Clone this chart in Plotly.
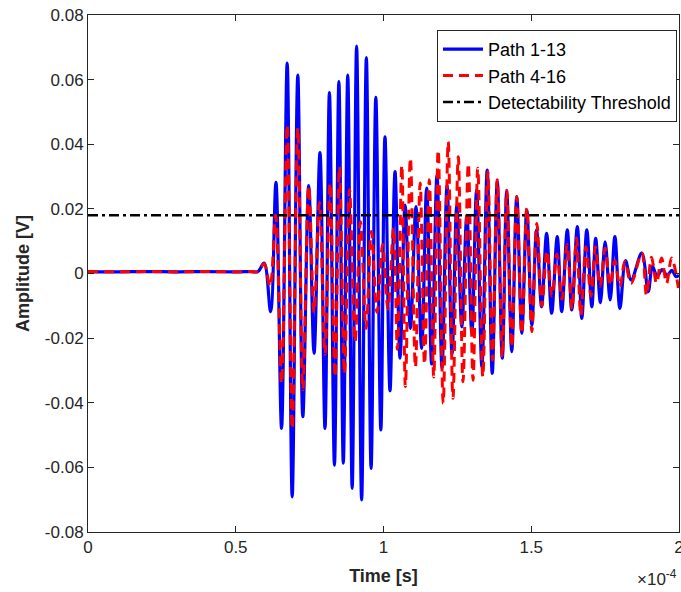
import plotly.graph_objects as go

# ---- data (time in microseconds, amplitude in V) ----
path1_13_t = [0, 10, 20, 30, 40, 50, 55, 57.5, 59.6, 61.8, 63.6, 65.5, 67.4, 69.1, 71.0, 72.7,
              74.7, 76.5, 78.5, 80.2,
              81.7, 83.4, 84.9, 86.4, 87.9, 89.4, 90.9, 92.6, 94.2, 95.8, 97.4, 99.1, 100.5,
              102.2, 103.9, 105.6, 107.3, 109.1, 111.0, 112.9, 114.6, 116.3, 118.1, 119.8,
              121.5, 123.2, 124.8, 126.5, 128.2, 129.9, 131.5, 133.3, 135.1, 136.8, 138.5,
              140.2, 141.7, 143.4, 145.1, 146.8, 148.5, 150.2, 151.8, 153.5, 155.2, 156.9,
              158.8, 160.3, 162.2, 163.7, 165.6, 167.1, 168.8, 170.5, 171.8, 173.4, 175.0,
              176.7, 178.3, 180.0, 181.9, 183.8, 187.4, 189.6, 191.0, 192.6, 194.3, 196.0,
              197.6, 199.0, 200.0]
path1_13_v = [0.0006, 0.0005, 0.0006, 0.0005, 0.0006, 0.0005, 0.0006, 0.0006, 0.0032, -0.0118,
              0.0282, -0.0479, 0.0651, -0.0691, 0.0614, -0.0443,
              0.0272, -0.0247, 0.0374, -0.0479, 0.0560, -0.0593, 0.0594, -0.0587, 0.0614,
              -0.0665, 0.0704, -0.0701, 0.0668, -0.0603, 0.0545, -0.0484, 0.0423, -0.0363,
              0.0315, -0.0262, 0.0212, -0.0170, 0.0207, -0.0232, 0.0264, -0.0280, 0.0303,
              -0.0292, 0.0272, -0.0250, 0.0212, -0.0165, 0.0180, -0.0184, 0.0258, -0.0288,
              0.0320, -0.0309, 0.0284, -0.0262, 0.0253, -0.0242, 0.0238, -0.0185, 0.0197,
              -0.0160, 0.0135, -0.0103, 0.0124, -0.0123, 0.0114, -0.0118, 0.0135, -0.0113,
              0.0145, -0.0139, 0.0135, -0.0103, 0.0109, -0.0090, 0.0098, -0.0082, 0.0114,
              -0.0108, 0.0040, -0.0020, 0.0063, -0.0056, 0.0022, -0.0008, 0.0012, -0.0006,
              0.0010, -0.0010, -0.0005]

path4_16_t = [0, 10, 20, 30, 40, 50, 55, 57.5, 59.6, 61.6, 63.5, 65.5, 67.4, 69.1, 71.0, 72.7,
              74.7, 76.5, 78.3, 80.2,
              81.9, 83.6, 85.1, 86.8, 88.5, 90.4, 92.2, 94.1, 95.9, 97.8, 99.7, 101.5, 103.4,
              104.7, 106.2, 107.4, 109.1, 110.8, 112.4, 113.9, 115.5, 117.0, 118.5, 120.2,
              121.9, 123.5, 125.3, 126.9, 128.7, 130.3, 131.9, 133.6, 135.3, 136.9, 138.5,
              140.2, 141.7, 143.4, 145.1, 146.8, 148.5, 150.2, 151.9, 153.6, 155.3, 157.0,
              158.7, 160.4, 162.1, 163.8, 165.3, 166.8, 168.5, 170.2, 171.7, 173.3, 175.0,
              176.7, 178.3, 180.0, 181.7, 183.8, 187.4, 189.0, 190.7, 192.4, 194.1, 195.8,
              197.5, 199.8]
path4_16_v = [0.0006, 0.0005, 0.0006, 0.0005, 0.0006, 0.0005, 0.0006, 0.0006, 0.0030, -0.0040,
              0.0180, -0.0340, 0.0460, -0.0480, 0.0450, -0.0360,
              0.0270, -0.0120, 0.0220, -0.0250, 0.0280, -0.0320, 0.0330, -0.0310, 0.0260,
              -0.0210, 0.0160, -0.0170, 0.0130, -0.0120, 0.0090, -0.0110, 0.0140, -0.0235,
              0.0335, -0.0350, 0.0357, -0.0290, 0.0280, -0.0280, 0.0290, -0.0320, 0.0382,
              -0.0402, 0.0408, -0.0386, 0.0361, -0.0335, 0.0340, -0.0330, 0.0326, -0.0320,
              0.0315, -0.0268, 0.0290, -0.0258, 0.0258, -0.0227, 0.0238, -0.0185, 0.0202,
              -0.0180, 0.0155, -0.0100, 0.0070, -0.0070, 0.0060, -0.0080, 0.0090, -0.0110,
              0.0110, -0.0130, 0.0083, -0.0070, 0.0083, -0.0040, 0.0078, -0.0036, 0.0040,
              -0.0040, 0.0037, -0.0030, 0.0063, -0.0067, 0.0050, -0.0030, 0.0048, -0.0030,
              0.0048, -0.0045]

threshold_t = [0, 200]
threshold_v = [0.018, 0.018]

x_tick_vals_us = [0, 50, 100, 150, 200]
x_tick_text = ["0", "0.5", "1", "1.5", "2"]
y_tick_vals = [-0.08, -0.06, -0.04, -0.02, 0, 0.02, 0.04, 0.06, 0.08]
y_tick_text = ["-0.08", "-0.06", "-0.04", "-0.02", "0", "0.02", "0.04", "0.06", "0.08"]

def to_s(ts):
    return [t / 1e6 for t in ts]

FONT = "Liberation Sans, Arial, Helvetica, sans-serif"

fig = go.Figure()
fig.add_trace(go.Scatter(x=to_s(path1_13_t), y=path1_13_v, mode="lines", name="Path 1-13",
                         line=dict(color="#0000ff", width=3.2, shape="spline", smoothing=1.0)))
fig.add_trace(go.Scatter(x=to_s(path4_16_t), y=path4_16_v, mode="lines", name="Path 4-16",
                         line=dict(color="#ff0000", width=3, dash="10px,6px",
                                   shape="spline", smoothing=1.0)))
fig.add_trace(go.Scatter(x=to_s(threshold_t), y=threshold_v, mode="lines",
                         name="Detectability Threshold",
                         line=dict(color="#000000", width=2.5, dash="10px,4px,3px,4px")))

axis_common = dict(showline=True, linecolor="#262626", linewidth=1, mirror="allticks",
                   ticks="inside", ticklen=6, tickcolor="#262626", showgrid=False,
                   zeroline=False, tickfont=dict(family=FONT, size=17, color="#262626"))

fig.update_layout(
    width=681, height=592,
    margin=dict(l=88, r=2, t=15, b=60),
    paper_bgcolor="white", plot_bgcolor="white",
    font=dict(family=FONT, color="#262626"),
    xaxis=dict(range=[0, 200.0001 / 1e6], tickvals=to_s(x_tick_vals_us), ticktext=x_tick_text,
               automargin=False, ticklabeloverflow="allow",
               title=dict(text="<b>Time [s]</b>", font=dict(family=FONT, size=18, color="#262626"),
                          standoff=12),
               **axis_common),
    yaxis=dict(range=[-0.08, 0.08], tickvals=y_tick_vals, ticktext=y_tick_text,
               title=dict(text="<b>Amplitude [V]</b>", font=dict(family=FONT, size=18, color="#262626"),
                          standoff=10),
               **axis_common),
    legend=dict(x=0.9966, y=0.971, xanchor="right", yanchor="top",
                bgcolor="white", bordercolor="#262626", borderwidth=1,
                font=dict(family=FONT, size=18, color="#000000"),
                itemwidth=40, tracegroupgap=0),
    showlegend=True,
)
fig.add_annotation(x=1.0, y=-0.089, xref="paper", yref="paper", xanchor="right", yanchor="middle",
                   text="×10<sup>-4</sup>", showarrow=False,
                   font=dict(family=FONT, size=17, color="#262626"))

fig.write_html("out.html")
